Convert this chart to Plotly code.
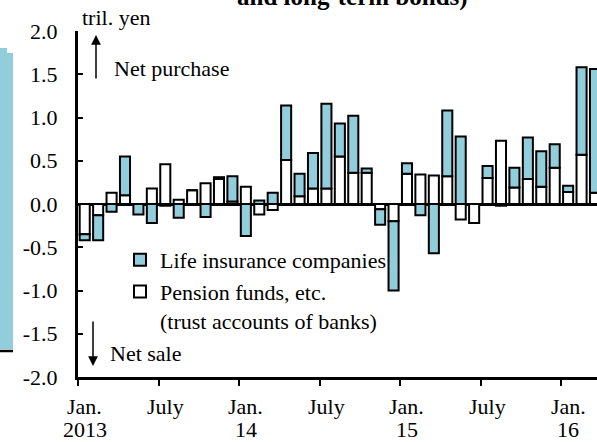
import plotly.graph_objects as go

# Monthly net purchases of super-long-term & long-term bonds (tril. yen), Jan 2013 - Mar 2016
months = [
    "2013-01", "2013-02", "2013-03", "2013-04", "2013-05", "2013-06",
    "2013-07", "2013-08", "2013-09", "2013-10", "2013-11", "2013-12",
    "2014-01", "2014-02", "2014-03", "2014-04", "2014-05", "2014-06",
    "2014-07", "2014-08", "2014-09", "2014-10", "2014-11", "2014-12",
    "2015-01", "2015-02", "2015-03", "2015-04", "2015-05", "2015-06",
    "2015-07", "2015-08", "2015-09", "2015-10", "2015-11", "2015-12",
    "2016-01", "2016-02", "2016-03",
]
pension = [
    -0.35, -0.13, 0.13, 0.10, 0.00, 0.18, 0.46, 0.05, 0.16, 0.24, 0.29, 0.03,
    0.20, -0.12, -0.07, 0.51, 0.09, 0.18, 0.18, 0.55, 0.36, 0.36, -0.06, -0.20,
    0.35, 0.34, 0.33, 0.32, -0.18, -0.22, 0.30, 0.73, 0.19, 0.29, 0.20, 0.42,
    0.14, 0.57, 0.13,
]
life = [
    -0.07, -0.29, -0.09, 0.45, -0.12, -0.22, -0.02, -0.16, 0.00, -0.15, 0.02, 0.29,
    -0.37, 0.04, 0.13, 0.63, 0.26, 0.41, 0.98, 0.38, 0.66, 0.05, -0.18, -0.80,
    0.12, -0.13, -0.57, 0.76, 0.78, 0.00, 0.14, -0.02, 0.23, 0.48, 0.41, 0.27,
    0.07, 1.01, 1.43,
]
tick_months = [0, 6, 12, 18, 24, 30, 36]
tick_line1 = ["Jan.", "July", "Jan.", "July", "Jan.", "July", "Jan."]
tick_line2 = ["2013", "", "14", "", "15", "", "16"]
y_ticks = [-2.0, -1.5, -1.0, -0.5, 0.0, 0.5, 1.0, 1.5, 2.0]

FONT = "Liberation Serif, Times New Roman, serif"
BLUE = "#92CDDC"
FS = 22

idx = list(range(len(months)))

fig = go.Figure()
fig.add_trace(go.Bar(
    x=idx, y=pension, name="Pension funds, etc.<br>(trust accounts of banks)",
    legendgroup="pension",
    marker=dict(color="white", line=dict(color="black", width=2)),
))
fig.add_trace(go.Bar(
    x=idx, y=life, name="Life insurance companies",
    legendgroup="life",
    marker=dict(color=BLUE, line=dict(color="black", width=2)),
))

W, H = 597, 442
L, R, T, B = 78, 0, 31, 65
pw, ph = W - L - R, H - T - B

def px(xp):
    return (xp - L) / pw

def py(yp):
    return (H - B - yp) / ph

txt = dict(family=FONT, size=FS, color="black")
annotations = []
for m, a, b in zip(tick_months, tick_line1, tick_line2):
    annotations.append(dict(x=m, xref="x", y=py(407), yref="paper", text=a,
                            showarrow=False, xanchor="center", yanchor="middle", font=txt))
    if b:
        annotations.append(dict(x=m, xref="x", y=py(429.5), yref="paper", text=b,
                                showarrow=False, xanchor="center", yanchor="middle", font=txt))

annotations += [
    dict(x=px(80), y=py(18), xref="paper", yref="paper", text="tril. yen",
         showarrow=False, xanchor="left", yanchor="middle", font=txt),
    dict(x=px(112), y=py(68), xref="paper", yref="paper", text="Net purchase",
         showarrow=False, xanchor="left", yanchor="middle", font=txt),
    dict(x=px(108), y=py(353), xref="paper", yref="paper", text="Net sale",
         showarrow=False, xanchor="left", yanchor="middle", font=txt),
    dict(x=px(96), y=py(35), xref="paper", yref="paper", text="", showarrow=True,
         ax=0, ay=45, arrowhead=2, arrowsize=1.3, arrowwidth=1.5, arrowcolor="black"),
    dict(x=px(93), y=py(366), xref="paper", yref="paper", text="", showarrow=True,
         ax=0, ay=-46, arrowhead=2, arrowsize=1.3, arrowwidth=1.5, arrowcolor="black"),
    dict(x=px(352), y=py(13), xref="paper", yref="paper",
         text="<b>and long-term bonds)</b>", showarrow=False,
         xanchor="center", yanchor="bottom",
         font=dict(family=FONT, size=25, color="black")),
]

shapes = [
    dict(type="rect", xref="paper", yref="paper", x0=px(0), x1=px(7), y0=py(349), y1=py(48),
         fillcolor=BLUE, line=dict(width=0)),
    dict(type="rect", xref="paper", yref="paper", x0=px(7), x1=px(13), y0=py(349), y1=py(53),
         fillcolor=BLUE, line=dict(width=0)),
    dict(type="line", xref="paper", yref="paper", x0=px(0), x1=px(13), y0=py(351), y1=py(351),
         line=dict(color="black", width=2.5)),
]

fig.update_layout(
    width=W, height=H,
    margin=dict(l=L, r=R, t=T, b=B, pad=0),
    barmode="relative", bargap=0.25,
    plot_bgcolor="white", paper_bgcolor="white",
    font=txt,
    showlegend=True,
    legend=dict(x=px(120), y=py(239), xanchor="left", yanchor="top",
                bgcolor="rgba(0,0,0,0)", traceorder="reversed", valign="top",
                font=txt, itemwidth=30, tracegroupgap=4),
    annotations=annotations, shapes=shapes,
    xaxis=dict(range=[-0.5, 38.15], showgrid=False, zeroline=False,
               showline=True, linecolor="black", linewidth=3,
               tickmode="array", tickvals=[m - 0.5 for m in tick_months],
               ticktext=["" for _ in tick_months],
               ticks="outside", ticklen=6, tickwidth=2, tickcolor="black"),
    yaxis=dict(range=[-2.0, 2.0], showgrid=False,
               zeroline=True, zerolinecolor="black", zerolinewidth=3,
               showline=True, linecolor="black", linewidth=3,
               tickmode="array", tickvals=y_ticks,
               ticktext=[f"{v:.1f}" for v in y_ticks],
               ticks="inside", ticklen=5, tickwidth=2, tickcolor="black",
               ticklabelstandoff=13),
)

fig.write_html("out.html", config={"displayModeBar": False},
               post_script="document.body.style.margin='0';")
